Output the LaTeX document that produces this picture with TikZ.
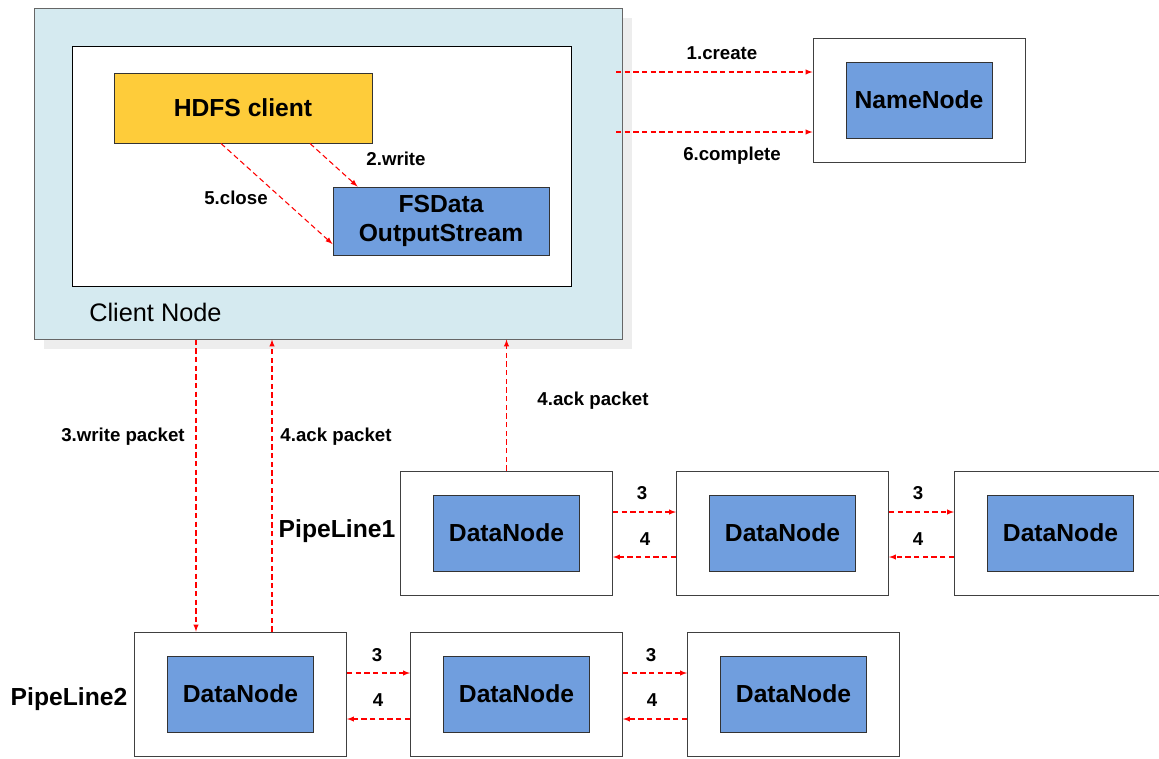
\documentclass[tikz,border=0pt]{standalone}
\usepackage{fontspec}
\setmainfont{Liberation Sans}
\usetikzlibrary{positioning,shapes,arrows,shadows}
\definecolor{clientbg}{RGB}{213,234,240}
\definecolor{hdfsyel}{RGB}{254,204,58}
\definecolor{dnblue}{RGB}{112,158,222}

\begin{document}
\begin{tikzpicture}[x=0.75pt, y=-0.75pt,
  host/.style={rectangle, draw=black!75, fill=white, line width=0.75pt,
         minimum width=159pt, minimum height=93pt, inner sep=0pt},
  daemon/.style={rectangle, draw=black!80, fill=dnblue, line width=0.75pt,
         minimum width=109.5pt, minimum height=57pt, inner sep=0pt,
         font=\fontsize{18.5}{22}\selectfont\bfseries},
  flow/.style={-latex, red, line width=0.8pt, dash pattern=on 4pt off 2.5pt},
  lbl/.style={font=\fontsize{14}{16}\selectfont\bfseries, inner sep=0pt}]

 \useasboundingbox (0,0) rectangle (1159,758);

 % client side
 \node [rectangle, draw=black!60, fill=clientbg, line width=0.75pt, inner sep=0pt,
        minimum width=441pt, minimum height=248.25pt,
        drop shadow={shadow xshift=7.5pt, shadow yshift=-7.5pt, fill=black!7, opacity=1}]
       (client) at (328,173.5) {};
 \node [rectangle, draw=black, fill=white, line width=0.75pt, inner sep=0pt,
        minimum width=374.25pt, minimum height=180pt] (jvm) at (321.5,166) {};
 \node [daemon, fill=hdfsyel, minimum width=193.5pt, minimum height=52.5pt] (hdfs) at (243,108) {HDFS client};
 \node [daemon, minimum width=162pt, minimum height=51pt, align=center] (fsout) at (441,221) {FSData\\OutputStream};
 \node [font=\fontsize{19}{22}\selectfont, anchor=west, inner sep=0pt] (cnlabel) at (89,312) {Client Node};

 % namenode
 \node [host] (nnhost) at (919,100) {};
 \node [daemon] (nn) at (nnhost) {NameNode};

 % pipelines
 \node [host] (p11) at (506.5,533) {};
 \node [host, right=47.25pt of p11] (p12) {};
 \node [host, right=48.75pt of p12] (p13) {};
 \node [host] (p21) at (240.5,694) {};
 \node [host, right=47.25pt of p21] (p22) {};
 \node [host, right=48pt of p22] (p23) {};
 \node [daemon] (d11) at (p11) {DataNode};
 \node [daemon] (d12) at (p12) {DataNode};
 \node [daemon] (d13) at (p13) {DataNode};
 \node [daemon] (d21) at (p21) {DataNode};
 \node [daemon] (d22) at (p22) {DataNode};
 \node [daemon] (d23) at (p23) {DataNode};
 \node [lbl, font=\fontsize{18.5}{22}\selectfont\bfseries] (pl1) at (337,531) {PipeLine1};
 \node [lbl, font=\fontsize{18.5}{22}\selectfont\bfseries] (pl2) at (69,699) {PipeLine2};

 % client <-> namenode
 \coordinate (c1) at (616,72);
 \coordinate (c6) at (616,132);
 \draw [flow] (c1) -- (c1 -| nnhost.west);
 \draw [flow] (c6) -- (c6 -| nnhost.west);
 \node [lbl] (lcreate) at (722,53) {1.create};
 \node [lbl] (lcomplete) at (732,156) {6.complete};

 % inside the client
 \draw [flow] ([xshift=50.25pt]hdfs.south) -- ([xshift=18.75pt]fsout.north west);
 \draw [flow] ([xshift=-16.5pt]hdfs.south) -- ([yshift=-17.25pt]fsout.west);
 \node [lbl] (lwrite) at (396,159) {2.write};
 \node [lbl] (lclose) at (236,198) {5.close};

 % client <-> pipelines
 \coordinate (wp) at (196,0);
 \coordinate (ap) at (272,0);
 \draw [flow] (wp |- client.south) -- (wp |- p21.north);
 \draw [flow] (ap |- p21.north) -- (ap |- client.south);
 \draw [flow] (p11.north) -- (p11.north |- client.south);
 \node [lbl] (lwp) at (123,437) {3.write packet};
 \node [lbl] (lack2) at (336,437) {4.ack packet};
 \node [lbl] (lack1) at (593,401) {4.ack packet};

 % pipeline 1
 \draw [flow] ([yshift=15.75pt]p11.east) -- ([yshift=15.75pt]p12.west);
 \draw [flow] ([yshift=-18pt]p12.west) -- ([yshift=-18pt]p11.east);
 \draw [flow] ([yshift=15.75pt]p12.east) -- ([yshift=15.75pt]p13.west);
 \draw [flow] ([yshift=-18pt]p13.west) -- ([yshift=-18pt]p12.east);
 \node [lbl] (l113) at (642,493) {3};
 \node [lbl] (l114) at (645,539) {4};
 \node [lbl] (l123) at (918,493) {3};
 \node [lbl] (l124) at (918,539) {4};

 % pipeline 2
 \draw [flow] ([yshift=15.75pt]p21.east) -- ([yshift=15.75pt]p22.west);
 \draw [flow] ([yshift=-18.75pt]p22.west) -- ([yshift=-18.75pt]p21.east);
 \draw [flow] ([yshift=15.75pt]p22.east) -- ([yshift=15.75pt]p23.west);
 \draw [flow] ([yshift=-18.75pt]p23.west) -- ([yshift=-18.75pt]p22.east);
 \node [lbl] (l213) at (377,655) {3};
 \node [lbl] (l214) at (378,700) {4};
 \node [lbl] (l223) at (651,655) {3};
 \node [lbl] (l224) at (652,700) {4};
\end{tikzpicture}
\end{document}
